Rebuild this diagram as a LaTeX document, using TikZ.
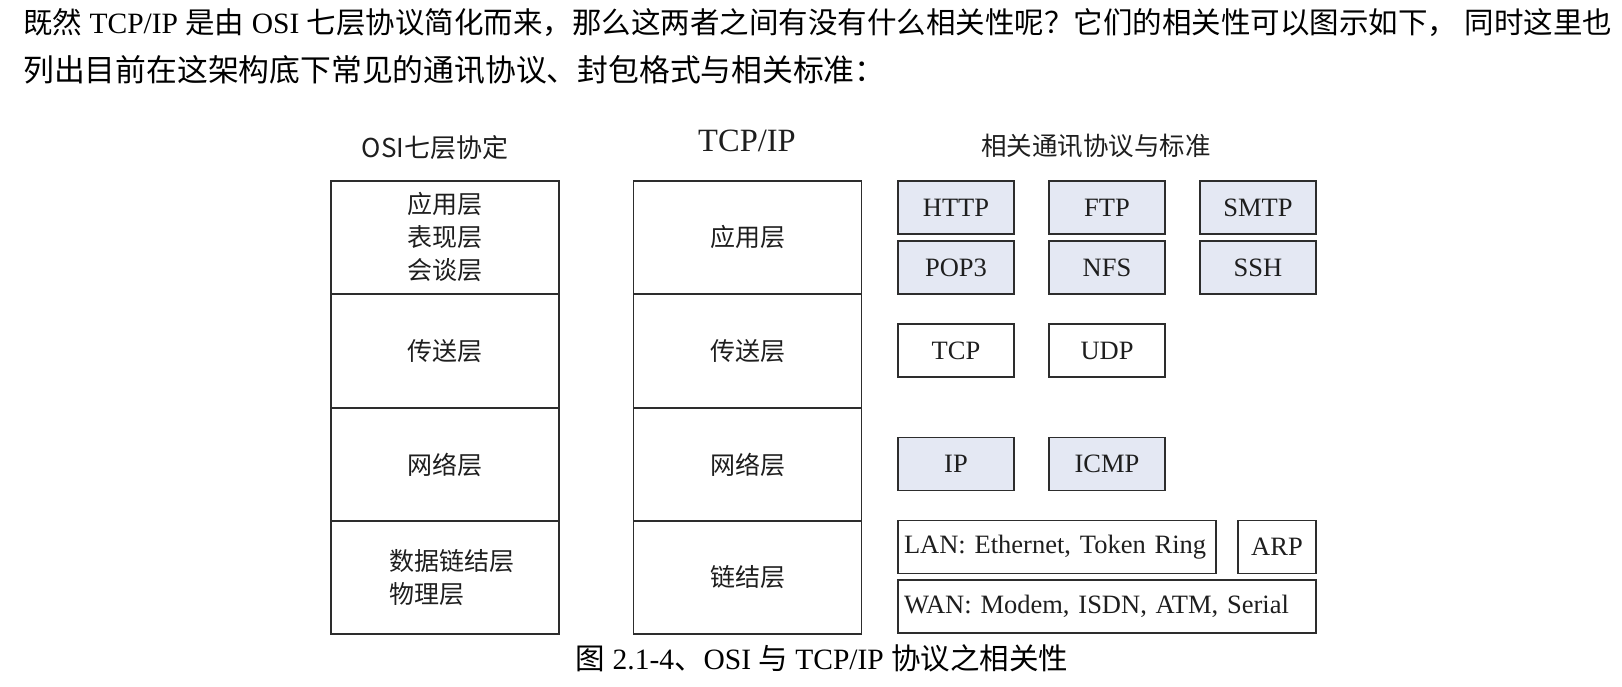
\documentclass[tikz,border=0pt]{standalone}
\usepackage{fontspec}
\setmainfont{Liberation Serif}
\newfontfamily\cjk{Noto Sans CJK SC}
\usetikzlibrary{positioning}
\definecolor{boxline}{RGB}{45,45,45}
\definecolor{protofill}{RGB}{228,232,243}
\definecolor{inkgray}{RGB}{30,30,30}
\newcommand{\zh}[1]{{\cjk #1}}
\tikzset{
  layer/.style={rectangle,draw=boxline,line width=1.8pt,
                minimum width=228pt,minimum height=113.3pt,inner sep=0pt,
                align=center,text=inkgray,
                font=\cjk\fontsize{25}{33}\selectfont},
  proto/.style={rectangle,draw=boxline,line width=1.8pt,fill=protofill,
                minimum width=#1,minimum height=53pt,inner sep=0pt,
                text=inkgray,font=\fontsize{26.5}{30}\selectfont},
  proto/.default=116pt,
  plainproto/.style={proto=#1,fill=white},
  plainproto/.default=116pt,
  wideproto/.style={plainproto,inner xsep=6pt,text width=#1,align=left},
  heading/.style={text=inkgray,font=\cjk\fontsize{25.5}{30}\selectfont},
  bodytext/.style={anchor=west,inner sep=0pt,text=black,
                   font=\fontsize{29.5}{34}\selectfont},
}

\begin{document}
\begin{tikzpicture}[x=1pt,y=-1pt]
  \useasboundingbox (0,0) rectangle (1622,686);
  % intro text
  \node[bodytext] (intro1) at (23,23)
    {\zh{既然} TCP/IP \zh{是由} OSI \zh{七层协议简化而来，那么这两者之间有没有什么相关性呢？它们的相关性可以图示如下，} \zh{同时这里也}};
  \node[bodytext,font=\fontsize{30.8}{34}\selectfont] (intro2) at (23,70)
    {\zh{列出目前在这架构底下常见的通讯协议、封包格式与相关标准：}};

  % column headings
  \node[heading,font=\cjk\fontsize{26}{30}\selectfont] (osihead) at (435,148) {OSI七层协定};
  \node[heading,font=\fontsize{32.5}{34}\selectfont] (tcphead) at (747,141) {TCP/IP};
  \node[heading] (stdhead) at (1096,146) {相关通讯协议与标准};

  % OSI layers
  \node[layer] (osiapp) at (445,237.5) {应用层\\表现层\\会谈层};
  \node[layer] (ositrans) at (445,351) {传送层};
  \node[layer] (osinet) at (445,464.5) {网络层};
  \node[layer,align=left] (osilink) at (445,577.5)
    {\hspace*{14pt}数据链结层\\\hspace*{14pt}物理层};

  % TCP/IP layers
  \node[layer] (tcpapp) at (747.5,237.5) {应用层};
  \node[layer] (tcptrans) at (747.5,351) {传送层};
  \node[layer] (tcpnet) at (747.5,464.5) {网络层};
  \node[layer] (tcplink) at (747.5,577.5) {链结层};

  % application protocols
  \node[proto] (http) at (956,207.5) {HTTP};
  \node[proto] (ftp) at (1107,207.5) {FTP};
  \node[proto] (smtp) at (1258,207.5) {SMTP};
  \node[proto] (pop) at (956,267.5) {POP3};
  \node[proto] (nfs) at (1107,267.5) {NFS};
  \node[proto] (ssh) at (1258,267.5) {SSH};

  % transport and network
  \node[plainproto] (tcp) at (956,350.5) {TCP};
  \node[plainproto] (udp) at (1107,350.5) {UDP};
  \node[proto] (ip) at (956,464) {IP};
  \node[proto] (icmp) at (1107,464) {ICMP};

  % link
  \node[wideproto=306pt] (lan) at (1057,547) {LAN: Ethernet, Token Ring};
  \node[plainproto=78pt] (arp) at (1277,547) {ARP};
  \node[wideproto=406pt] (wan) at (1107,606.5) {WAN: Modem, ISDN, ATM, Serial};

  % caption
  \node[bodytext,anchor=center] (caption) at (822,658)
    {\zh{图} 2.1-4\zh{、}OSI \zh{与} TCP/IP \zh{协议之相关性}};
\end{tikzpicture}
\end{document}
